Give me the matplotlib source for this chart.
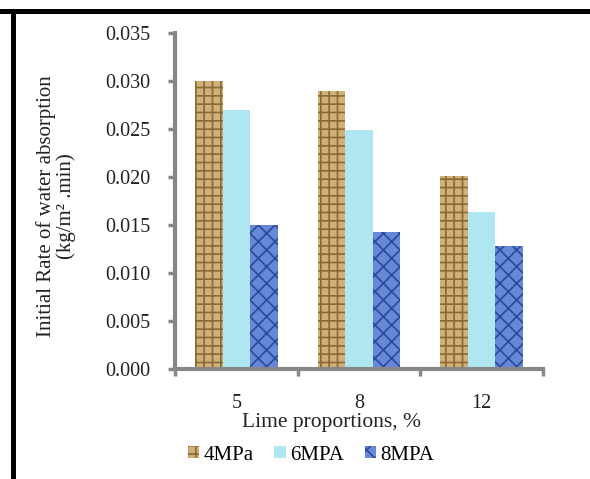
import numpy as np
import matplotlib
matplotlib.use("Agg")
import matplotlib.pyplot as plt
from matplotlib.patches import Rectangle

plt.rcParams['font.family'] = ['Liberation Serif', 'DejaVu Serif']
plt.rcParams['hatch.linewidth'] = 1.2

# data
categories = ['5', '8', '12']
series = ['4MPa', '6MPA', '8MPA']
vals_4mpa = [0.0300, 0.0290, 0.0201]
vals_6mpa = [0.0270, 0.0249, 0.0164]
vals_8mpa = [0.0150, 0.0143, 0.0128]
yticks = [0.000, 0.005, 0.010, 0.015, 0.020, 0.025, 0.030, 0.035]

fills = ['#d2b07a', '#aee6f2', '#6688d6']
hatch_cols = ['#8a6a35', '#8fd4e6', '#2a4a9e']
hatches = ['++', None, 'xx']

fig = plt.figure(figsize=(5.9, 4.79), dpi=100)
ax = fig.add_axes([175/590, 1-369/479, (543-175)/590, (369-33)/479])

x = np.arange(len(categories))
w = 0.225
data = [vals_4mpa, vals_6mpa, vals_8mpa]
for i, (vals, name) in enumerate(zip(data, series)):
    ax.bar(x + (i-1)*w, vals, w, color=fills[i], edgecolor=hatch_cols[i],
           linewidth=0, hatch=hatches[i], label=name)

ax.set_xlim(-0.5, 2.5)
ax.set_ylim(0, 0.035)
ax.set_yticks(yticks)
ax.set_yticklabels(['%.3f' % t for t in yticks], fontsize=14.5, color='#222222')
ax.set_xticks(x)
ax.set_xticklabels(categories, fontsize=14.5, color='#222222')
ax.set_xticks([-0.5, 0.5, 1.5, 2.5], minor=True)
ax.tick_params(axis='x', which='major', length=0, pad=18)
ax.tick_params(axis='x', which='minor', length=5, width=2.5, color='#888888', direction='out')
ax.tick_params(axis='y', length=5, width=2.5, color='#888888', pad=13)

for s in ['top', 'right']:
    ax.spines[s].set_visible(False)
for s in ['left', 'bottom']:
    ax.spines[s].set_color('#888888')
    ax.spines[s].set_linewidth(3)

fig.text(332/590, 1-422/479, 'Lime proportions, %', ha='center', va='center',
         fontsize=15.5, color='#222222')
fig.text(56/590, 1-206/479, 'Initial Rate of water absorption\n(kg/m² .min)',
         rotation=90, ha='center', va='center', fontsize=15, linespacing=1.0,
         color='#222222')

fig.legend(loc='center', bbox_to_anchor=(311/590, 1-455/479), ncol=3, frameon=False,
           fontsize=15, handlelength=0.55, handleheight=0.55, handletextpad=0.2,
           columnspacing=1.0)

# black frame at top and left edges
fig.add_artist(Rectangle((0, 1-14/479), 1, 5/479, transform=fig.transFigure,
                         color='black', lw=0))
fig.add_artist(Rectangle((11/590, 0), 5/590, 1-9/479, transform=fig.transFigure,
                         color='black', lw=0))

fig.savefig('out.png', dpi=100)
